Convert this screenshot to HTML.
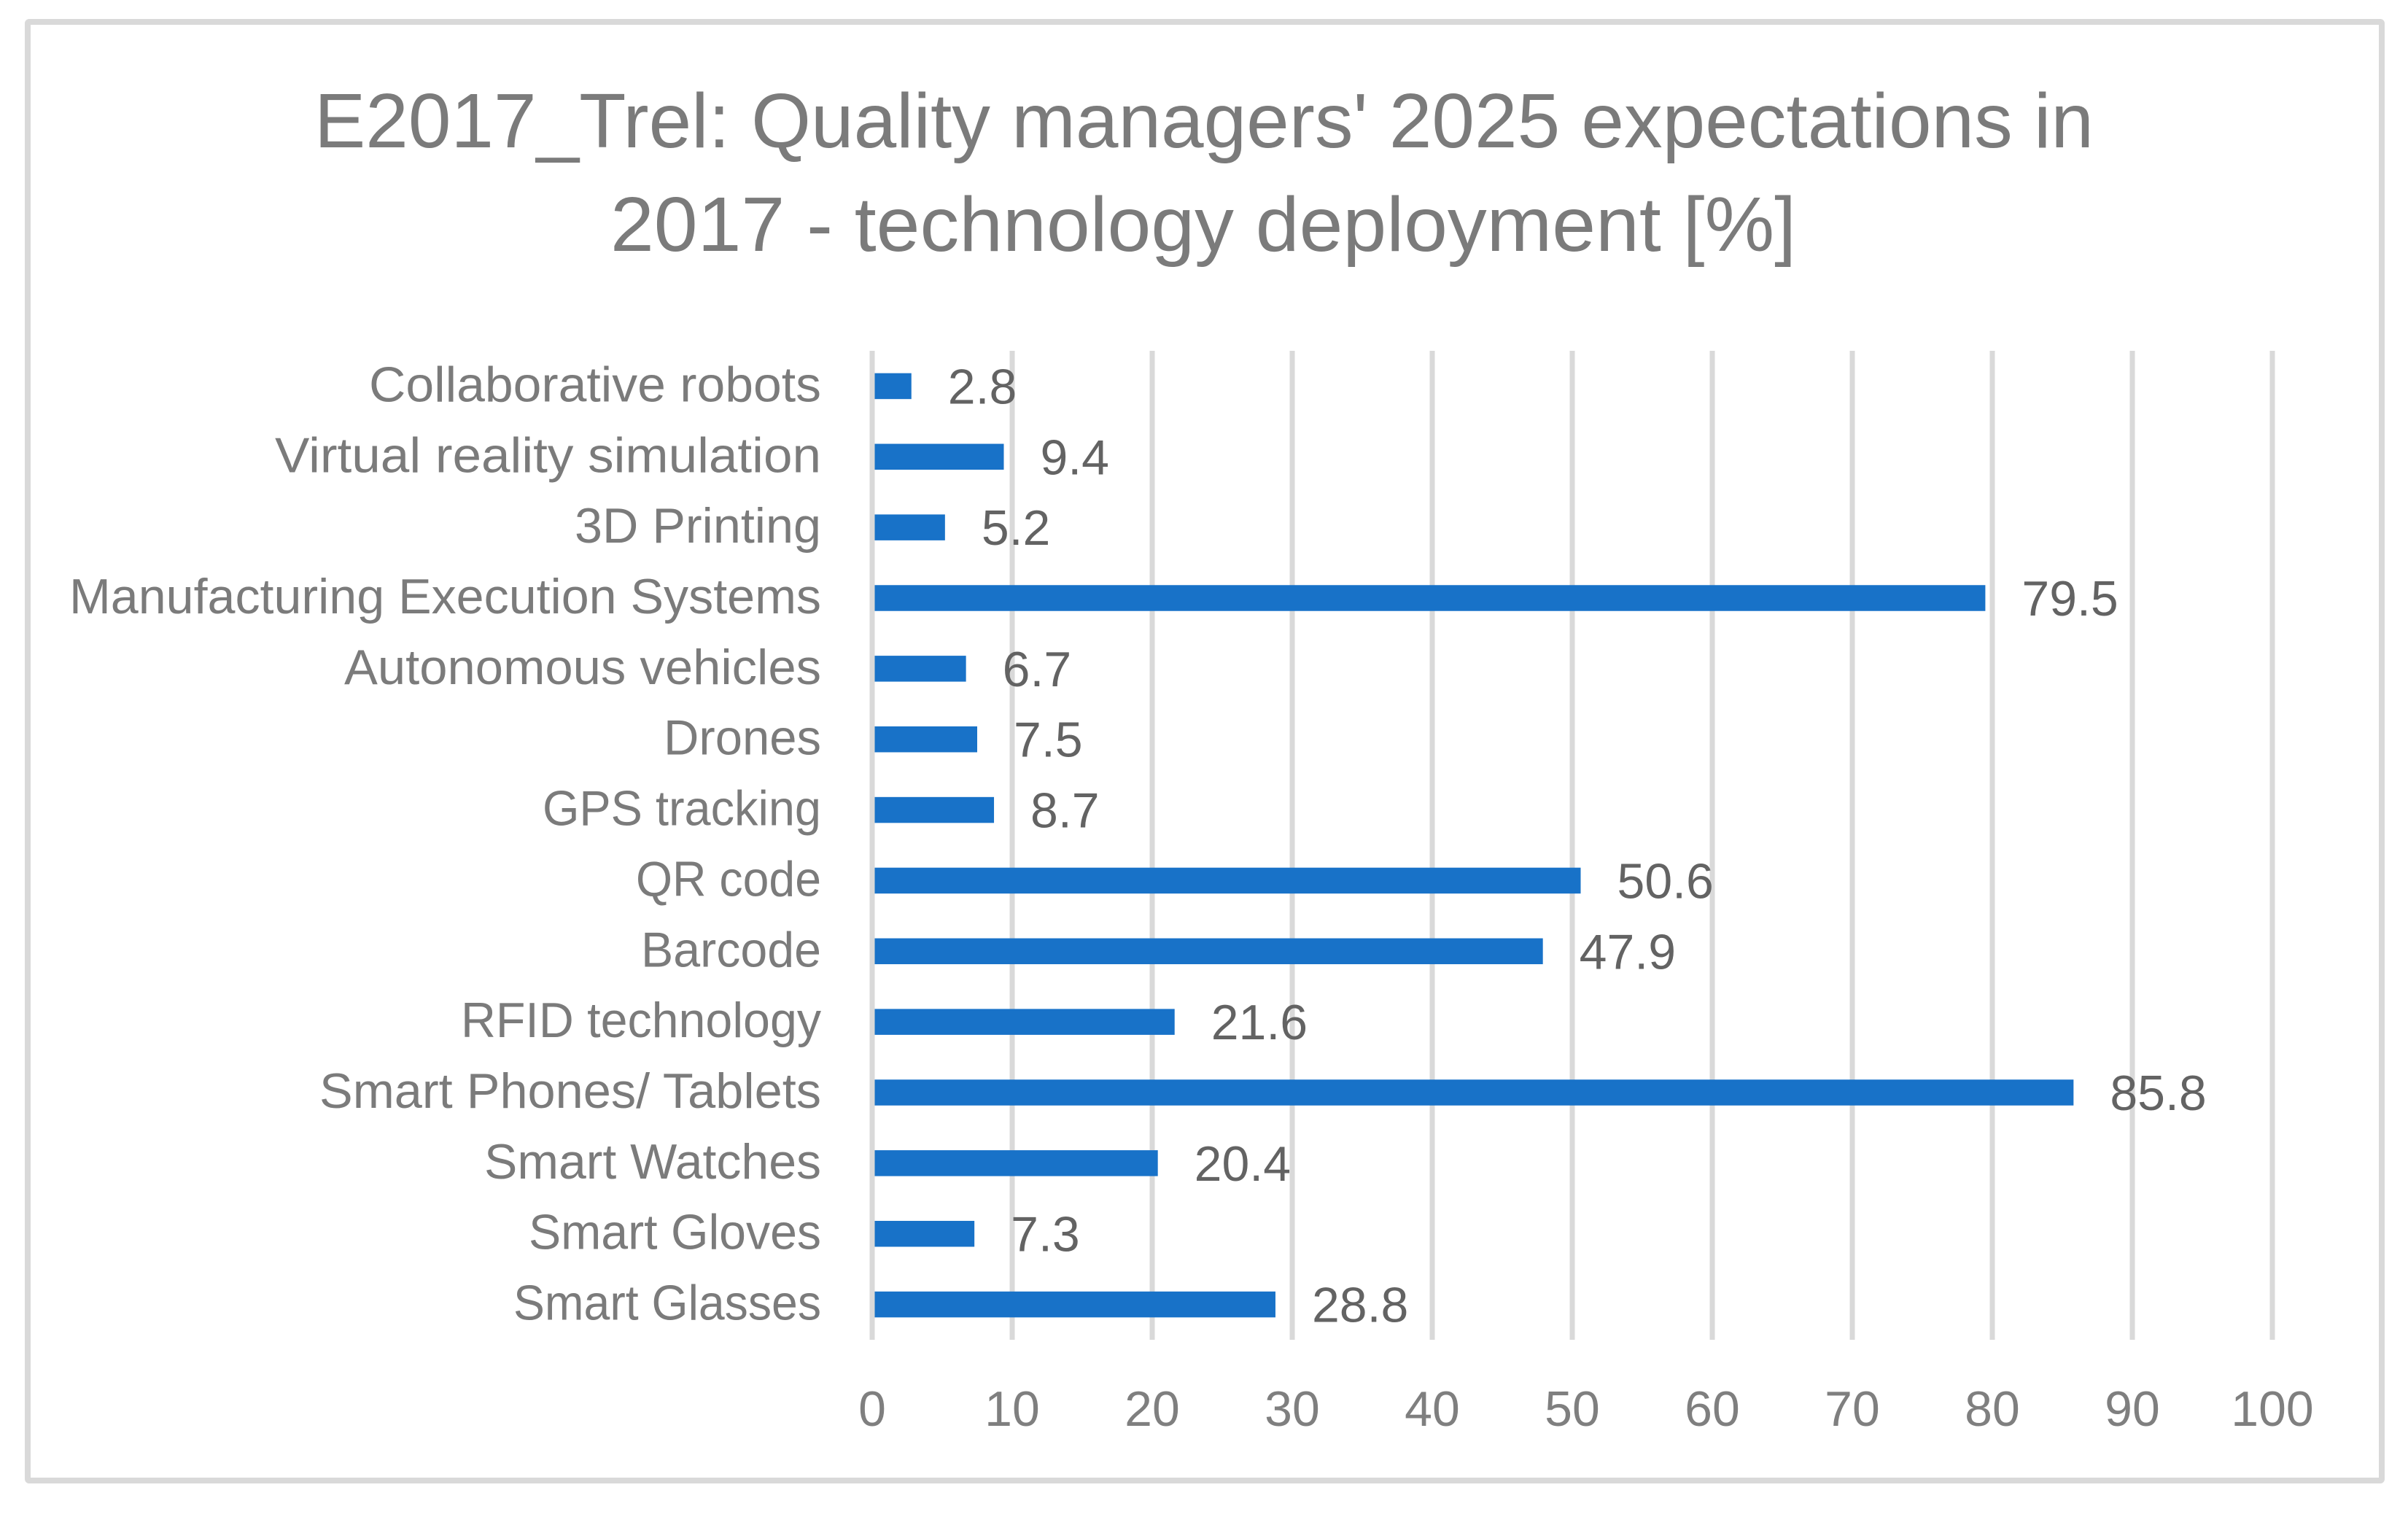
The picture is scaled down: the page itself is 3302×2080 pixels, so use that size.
<!DOCTYPE html>
<html lang="en">
<head>
<meta charset="utf-8">
<title>E2017_Trel chart</title>
<style>
  html, body { margin: 0; padding: 0; background: #fff; }
  svg { display: block; }
  text { font-family: "Liberation Sans", sans-serif; }
</style>
</head>
<body>
<svg id="chart" xmlns="http://www.w3.org/2000/svg" width="3302" height="2080" viewBox="0 0 3302 2080">
  <rect x="0" y="0" width="3302" height="2080" fill="#ffffff"/>
  <rect x="38" y="30" width="3228" height="2000" fill="#ffffff" stroke="#d9d9d9" stroke-width="8" rx="2"/>
  <g fill="#7b7b7b" font-size="106" text-anchor="middle">
    <text x="1651" y="202" textLength="2440" lengthAdjust="spacingAndGlyphs">E2017_Trel: Quality managers' 2025 expectations in</text>
    <text x="1650" y="344" textLength="1626" lengthAdjust="spacingAndGlyphs">2017 - technology deployment [%]</text>
  </g>
  <g id="grid"></g>
  <g id="bars"></g>
  <g id="axis-zero"></g>
  <g id="cats"></g>
  <g id="vals"></g>
  <g id="ticks"></g>
</svg>
<script>
const categories = ["Collaborative robots", "Virtual reality simulation", "3D Printing", "Manufacturing Execution Systems", "Autonomous vehicles", "Drones", "GPS tracking", "QR code", "Barcode", "RFID technology", "Smart Phones/ Tablets", "Smart Watches", "Smart Gloves", "Smart Glasses"];
const values = [2.8, 9.4, 5.2, 79.5, 6.7, 7.5, 8.7, 50.6, 47.9, 21.6, 85.8, 20.4, 7.3, 28.8];
const tickValues = [0, 10, 20, 30, 40, 50, 60, 70, 80, 90, 100];

const SVGNS = "http://www.w3.org/2000/svg";
const plotLeft = 1196, plotRight = 3116, plotTop = 481, plotBottom = 1837;
const axisMax = tickValues[tickValues.length - 1];
const barHeight = 35.5;
const gridWidth = 7;
const fontSize = 68;

/* Text-fitting layout only: rendered label widths in the reference typeface. */
const labelFit = {
  "Collaborative robots": 620, "Virtual reality simulation": 749, "3D Printing": 338,
  "Manufacturing Execution Systems": 1031, "Autonomous vehicles": 654, "Drones": 216,
  "GPS tracking": 382, "QR code": 254, "Barcode": 247, "RFID technology": 494,
  "Smart Phones/ Tablets": 688, "Smart Watches": 462, "Smart Gloves": 401, "Smart Glasses": 422
};

function xScale(v) { return plotLeft + (v / axisMax) * (plotRight - plotLeft); }
function yCenter(i) { return plotTop + (i + 0.5) * (plotBottom - plotTop) / categories.length; }
function make(tag, attrs, text) {
  const el = document.createElementNS(SVGNS, tag);
  for (const k in attrs) el.setAttribute(k, attrs[k]);
  if (text !== undefined) el.textContent = text;
  return el;
}

const gridG = document.getElementById("grid");
const barsG = document.getElementById("bars");
const axisG = document.getElementById("axis-zero");
const catsG = document.getElementById("cats");
const valsG = document.getElementById("vals");
const ticksG = document.getElementById("ticks");

tickValues.forEach(function (t) {
  const line = make("line", { x1: xScale(t), x2: xScale(t), y1: plotTop, y2: plotBottom, stroke: "#d9d9d9", "stroke-width": gridWidth });
  
  
  (t === 0 ? axisG : gridG).appendChild(line);

  const label = make("text", { x: xScale(t), y: 1955, "text-anchor": "middle", "font-size": fontSize, fill: "#7f7f7f" }, String(t));
  
  
  ticksG.appendChild(label);
});

categories.forEach(function (name, i) {
  const cy = yCenter(i);

  const bar = make("rect", { x: xScale(0), y: cy - barHeight / 2, width: xScale(values[i]) - xScale(0), height: barHeight, fill: "#1872c8" });
  
  
  barsG.appendChild(bar);

  const catAttrs = { x: 1126, y: cy + 21, "text-anchor": "end", "font-size": fontSize, fill: "#7b7b7b" };
  if (labelFit[name]) {
    catAttrs.textLength = labelFit[name];
    catAttrs.lengthAdjust = "spacingAndGlyphs";
  }
  const cat = make("text", catAttrs, name);
  
  
  catsG.appendChild(cat);

  const val = make("text", { x: xScale(values[i]) + 50, y: cy + 24, "font-size": fontSize, fill: "#636363" }, values[i].toFixed(1));
  
  
  valsG.appendChild(val);
});
</script>
</body>
</html>
